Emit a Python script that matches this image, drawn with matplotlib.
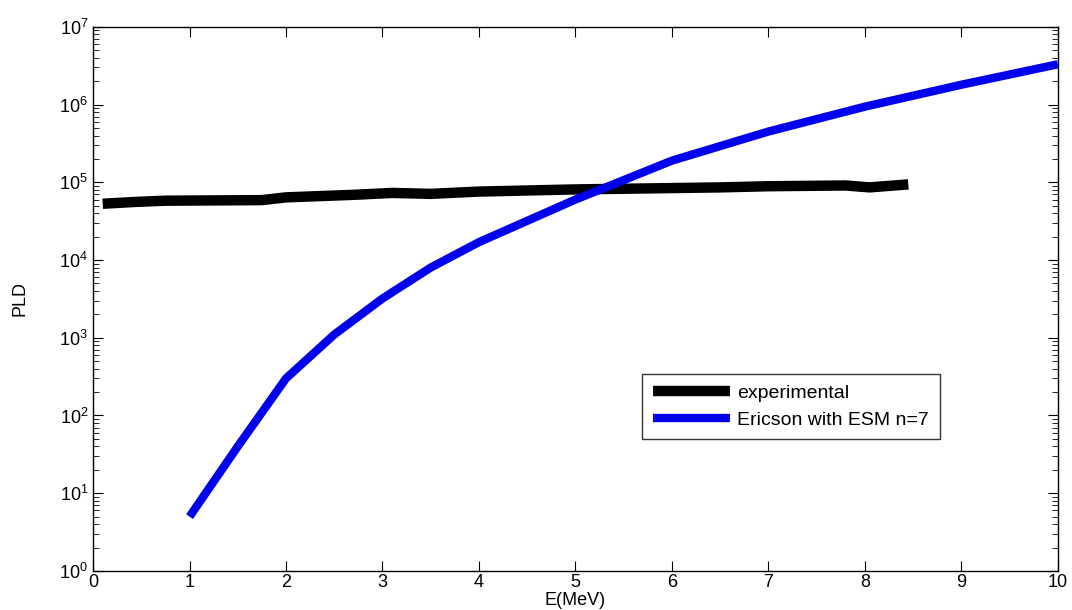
import numpy as np
import matplotlib
matplotlib.use("Agg")
import matplotlib.pyplot as plt
from matplotlib.ticker import LogLocator, NullFormatter

plt.rcParams['font.family'] = ['Liberation Sans', 'DejaVu Sans']
plt.rcParams['mathtext.default'] = 'regular'
plt.rcParams['font.size'] = 12

# experimental level density
e_exp = [0.1, 0.45, 0.75, 1.75, 2.0, 2.7, 3.1, 3.5, 4.0, 5.0, 6.5, 7.0, 7.8, 8.05, 8.45]
pld_exp = [5.3e4, 5.6e4, 5.8e4, 5.9e4, 6.4e4, 6.9e4, 7.3e4, 7.1e4, 7.6e4, 8.1e4, 8.6e4, 8.9e4, 9.1e4, 8.6e4, 9.4e4]

# Ericson formula with ESM, n=7
e_eri = [1, 1.5, 2, 2.5, 3, 3.5, 4, 5, 6, 7, 8, 9, 10]
pld_eri = [5.0, 4.0e1, 3.0e2, 1.1e3, 3.2e3, 8.0e3, 1.7e4, 6.0e4, 1.9e5, 4.5e5, 9.4e5, 1.8e6, 3.3e6]

fig = plt.figure(figsize=(10.72, 6.10), dpi=100)
ax = fig.add_axes([0.0868, 0.064, 0.9, 0.892])

ax.semilogy(e_exp, pld_exp, color='black', lw=7.5, solid_capstyle='butt', label='experimental')
ax.semilogy(e_eri, pld_eri, color='#0000ee', lw=6, solid_capstyle='butt', label='Ericson with ESM n=7')

ax.set_xlim(0, 10)
ax.set_ylim(1, 1e7)
ax.set_xticks(range(0, 11))
ax.yaxis.set_major_locator(LogLocator(base=10, numticks=10))
ax.yaxis.set_minor_locator(LogLocator(base=10, subs=np.arange(2, 10), numticks=20))
ax.yaxis.set_minor_formatter(NullFormatter())
ax.tick_params(which='both', direction='in', top=True, right=True, labelsize=13)
ax.tick_params(which='major', length=7)
ax.tick_params(which='minor', length=4)
ax.tick_params(axis='x', pad=2)
for s in ax.spines.values():
    s.set_linewidth(1.0)

ax.set_xlabel('E(MeV)', fontsize=13, labelpad=1)
ax.set_ylabel('PLD', fontsize=13, labelpad=22)

leg = ax.legend(loc='upper left', bbox_to_anchor=(0.569, 0.362), fontsize=14,
                frameon=True, fancybox=False, edgecolor='black', handlelength=4.0,
                borderpad=0.55, labelspacing=0.45, handletextpad=0.35, borderaxespad=0)
leg.get_frame().set_linewidth(1.0)

fig.savefig('out.png', dpi=100)
